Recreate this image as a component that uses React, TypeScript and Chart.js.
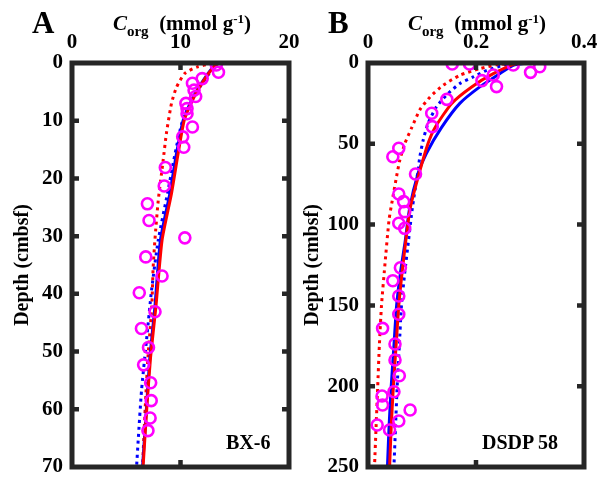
import React, { useEffect, useRef } from "react";
import { Chart, registerables } from "chart.js";

Chart.register(...registerables);

// ---------- Panel A (BX-6) ----------
const A_obsDepth = [0.35, 1.6, 2.7, 3.5, 4.7, 5.8, 7.0, 7.9, 8.8, 11.1, 12.8, 14.6, 18.1, 21.3, 24.4, 27.3, 30.3, 33.6, 36.9, 39.8, 43.1, 46.0, 49.3, 52.3, 55.4, 58.5, 61.5, 63.7];
const A_obsCorg = [13.3, 13.5, 12.0, 11.1, 11.25, 11.4, 10.5, 10.6, 10.6, 11.1, 10.2, 10.3, 8.6, 8.5, 6.95, 7.1, 10.4, 6.8, 8.3, 6.2, 7.65, 6.4, 7.05, 6.6, 7.25, 7.3, 7.2, 7.0];

const A_blueSolidDepth = [0, 0.7, 3, 5.9, 9.9, 15.7, 22.6, 30.7, 42.3, 51, 59.6, 70];
const A_blueSolid = [13.4, 13.0, 12.1, 11.17, 10.25, 9.63, 9.02, 8.15, 7.64, 7.18, 6.87, 6.5];
const A_redSolidDepth = [0, 0.7, 3, 5.9, 9.9, 15.7, 22.6, 30.7, 42.3, 51, 59.6, 70];
const A_redSolid = [13.5, 13.05, 12.15, 11.25, 10.35, 9.78, 9.17, 8.3, 7.73, 7.24, 6.9, 6.55];
const A_redDotDepth = [0, 0.1, 0.7, 1.8, 4.2, 7, 12.2, 16.9, 23.8, 30.7, 35.4, 42.3, 51, 59.6, 70];
const A_redDotted = [13.6, 12.9, 11.5, 10.4, 9.63, 9.17, 8.7, 8.4, 7.95, 7.64, 7.48, 7.35, 7.0, 6.75, 6.5];
const A_blueDotDepth = [0, 0.7, 3, 5.9, 9.9, 15.7, 22.6, 30.7, 39.4, 48, 56.7, 65.4, 70];
const A_blueDotted = [13.5, 13.1, 12.2, 11.2, 10.2, 9.5, 8.8, 7.95, 7.33, 6.87, 6.41, 6.1, 5.95];
const A_xTicks = [0, 10, 20];
const A_yTicks = [0, 10, 20, 30, 40, 50, 60, 70];

// ---------- Panel B (DSDP 58) ----------
const B_obsDepth = [0.6, 0.6, 1.2, 2.3, 5.8, 7.4, 10.9, 14.6, 22.5, 31.1, 39.4, 52.8, 58.0, 68.7, 81.1, 85.8, 92.0, 99.2, 102.3, 126.7, 134.7, 144.2, 155.5, 164.2, 173.9, 183.8, 193.5, 203.4, 206.1, 211.6, 214.7, 221.5, 224.0, 227.1];
const B_obsCorg = [0.156, 0.188, 0.269, 0.318, 0.301, 0.232, 0.211, 0.238, 0.146, 0.118, 0.119, 0.057, 0.046, 0.088, 0.057, 0.066, 0.068, 0.057, 0.068, 0.06, 0.046, 0.057, 0.057, 0.027, 0.05, 0.05, 0.058, 0.048, 0.026, 0.027, 0.078, 0.057, 0.017, 0.04];

const B_blueSolidDepth = [0, 1.4, 6.6, 14.8, 25, 40, 56, 68, 90, 110, 130, 150, 175, 200, 225, 250];
const B_blueSolid = [0.295, 0.269, 0.244, 0.207, 0.17, 0.136, 0.108, 0.093, 0.077, 0.069, 0.06, 0.053, 0.048, 0.043, 0.039, 0.036];
const B_redSolidDepth = [0, 0.4, 6.6, 14.8, 25, 40, 50, 68, 90, 110, 130, 150, 175, 200, 225, 250];
const B_redSolid = [0.3, 0.275, 0.232, 0.192, 0.155, 0.124, 0.111, 0.095, 0.078, 0.07, 0.063, 0.057, 0.052, 0.047, 0.043, 0.04];
const B_redDotDepth = [0, 1, 3.5, 7.6, 13.8, 21, 29, 40, 50, 60, 70, 85, 97, 126, 150, 175, 200, 225, 250];
const B_redDotted = [0.28, 0.24, 0.207, 0.17, 0.139, 0.115, 0.096, 0.081, 0.068, 0.059, 0.053, 0.045, 0.039, 0.031, 0.025, 0.021, 0.018, 0.015, 0.012];
const B_blueDotDepth = [0, 1.4, 4.5, 8.6, 12.7, 19, 27, 37.5, 48, 58, 68, 90, 110, 130, 150, 175, 200, 225, 250];
const B_blueDotted = [0.27, 0.251, 0.22, 0.195, 0.17, 0.148, 0.127, 0.111, 0.102, 0.096, 0.092, 0.082, 0.075, 0.068, 0.062, 0.058, 0.054, 0.051, 0.048];
const B_xTicks = [0, 0.2, 0.4];
const B_yTicks = [0, 50, 100, 150, 200, 250];

const FONT = "'Liberation Serif', 'Times New Roman', serif";
const FRAME = "#262626";

function pts(xs: number[], ys: number[]) {
  return xs.map((x, i) => ({ x, y: ys[i] }));
}

const framePlugin = {
  id: "frame",
  afterDatasetsDraw(chart: any, _args: any, opts: any) {
    const { ctx, chartArea } = chart;
    const { left, right, top, bottom } = chartArea;
    const xs = chart.scales.x;
    const ys = chart.scales.y;
    ctx.save();
    ctx.strokeStyle = FRAME;
    ctx.lineWidth = 5;
    ctx.lineCap = "butt";
    ctx.strokeRect(left, top, right - left, bottom - top);
    const len = 7;
    ctx.lineWidth = 4.5;
    ctx.beginPath();
    (opts.xTicks as number[]).forEach((v) => {
      const px = xs.getPixelForValue(v);
      if (px <= left + 3 || px >= right - 3) return;
      ctx.moveTo(px, top);
      ctx.lineTo(px, top + len);
      ctx.moveTo(px, bottom);
      ctx.lineTo(px, bottom - len);
    });
    (opts.yTicks as number[]).forEach((v) => {
      const py = ys.getPixelForValue(v);
      if (py <= top + 3 || py >= bottom - 3) return;
      ctx.moveTo(left, py);
      ctx.lineTo(left + len, py);
      ctx.moveTo(right, py);
      ctx.lineTo(right - len, py);
    });
    ctx.stroke();
    ctx.restore();
  },
};

type Curve = { depth: number[]; vals: number[]; color: string; dotted: boolean };

type PanelProps = {
  obsDepth: number[];
  obsCorg: number[];
  curves: Curve[];
  xMax: number;
  xStep: number;
  yMax: number;
  yStep: number;
  xTicks: number[];
  yTicks: number[];
  yAxisWidth: number;
  padRight: number;
  titlePad: number;
  fmt: (v: number) => string;
};

function Panel(p: PanelProps) {
  const ref = useRef<HTMLCanvasElement | null>(null);
  useEffect(() => {
    if (!ref.current) return;
    const datasets: any[] = [
      {
        label: "obs",
        data: pts(p.obsCorg, p.obsDepth),
        showLine: false,
        pointRadius: 5.5,
        pointBorderWidth: 2.6,
        pointBorderColor: "#ff00ff",
        pointBackgroundColor: "rgba(0,0,0,0)",
        pointStyle: "circle",
      },
      ...p.curves.map((c, i) => ({
        label: "c" + i,
        data: pts(c.vals, c.depth),
        showLine: true,
        borderColor: c.color,
        borderWidth: 3,
        borderDash: c.dotted ? [3, 4] : [],
        pointRadius: 0,
        tension: 0.2,
        fill: false,
      })),
    ];
    const tickFont = { family: FONT, size: 21, weight: "bold" as const };
    const chart = new Chart(ref.current, {
      type: "scatter",
      data: { datasets },
      options: {
        animation: false,
        responsive: false,
        maintainAspectRatio: false,
        events: [],
        layout: { padding: { left: 0, right: p.padRight, top: 0, bottom: 13 } },
        plugins: {
          legend: { display: false },
          tooltip: { enabled: false },
          frame: { xTicks: p.xTicks, yTicks: p.yTicks },
        } as any,
        scales: {
          x: {
            type: "linear",
            position: "top",
            min: 0,
            max: p.xMax,
            grid: { display: false, drawTicks: false },
            border: { display: false },
            ticks: {
              stepSize: p.xStep,
              color: "#000",
              font: tickFont,
              padding: 8,
              maxRotation: 0,
              callback: (v: any) => p.fmt(Number(v)),
            },
            afterFit: (s: any) => {
              s.height = 63;
              s.paddingLeft = 0;
              s.paddingRight = 0;
            },
          },
          y: {
            type: "linear",
            reverse: true,
            min: 0,
            max: p.yMax,
            grid: { display: false, drawTicks: false },
            border: { display: false },
            ticks: { stepSize: p.yStep, color: "#000", font: tickFont, padding: 9 },
            title: {
              display: true,
              text: "Depth (cmbsf)",
              color: "#000",
              font: { family: FONT, size: 20, weight: "bold" },
              padding: { top: p.titlePad, bottom: 0 },
            },
            afterFit: (s: any) => {
              s.width = p.yAxisWidth;
              s.paddingTop = 0;
              s.paddingBottom = 0;
            },
          },
        },
      },
      plugins: [framePlugin],
    });
    return () => chart.destroy();
  }, []);
  return <canvas ref={ref} width={300} height={480} style={{ display: "block", width: 300, height: 480 }} />;
}

const txt: React.CSSProperties = {
  position: "absolute",
  fontFamily: FONT,
  fontWeight: "bold",
  color: "#000",
  whiteSpace: "nowrap",
  lineHeight: 1,
};

function Title({ cx }: { cx: number }) {
  return (
    <div style={{ ...txt, left: cx - 100, width: 200, top: 12, fontSize: 21, textAlign: "center" }}>
      <i>C</i>
      <sub style={{ fontSize: 15, verticalAlign: "-6px" }}>org</sub>
      {"\u00a0\u00a0(mmol g"}
      <sup style={{ fontSize: 13, verticalAlign: "7px" }}>-1</sup>
      {")"}
    </div>
  );
}

export default function App() {
  return (
    <div style={{ position: "fixed", left: 0, top: 0, width: 600, height: 480, background: "#fff", overflow: "hidden" }}>
      <div style={{ position: "absolute", left: 0, top: 0 }}>
        <Panel
          obsDepth={A_obsDepth}
          obsCorg={A_obsCorg}
          curves={[
            { depth: A_redSolidDepth, vals: A_redSolid, color: "#ff0000", dotted: false },
            { depth: A_blueSolidDepth, vals: A_blueSolid, color: "#0000ff", dotted: false },
            { depth: A_redDotDepth, vals: A_redDotted, color: "#ff0000", dotted: true },
            { depth: A_blueDotDepth, vals: A_blueDotted, color: "#0000ff", dotted: true },
          ]}
          xMax={20}
          xStep={10}
          yMax={70}
          yStep={10}
          xTicks={A_xTicks}
          yTicks={A_yTicks}
          yAxisWidth={72}
          padRight={11}
          titlePad={11}
          fmt={(v) => String(v)}
        />
      </div>
      <div style={{ position: "absolute", left: 300, top: 0 }}>
        <Panel
          obsDepth={B_obsDepth}
          obsCorg={B_obsCorg}
          curves={[
            { depth: B_redSolidDepth, vals: B_redSolid, color: "#ff0000", dotted: false },
            { depth: B_blueSolidDepth, vals: B_blueSolid, color: "#0000ff", dotted: false },
            { depth: B_redDotDepth, vals: B_redDotted, color: "#ff0000", dotted: true },
            { depth: B_blueDotDepth, vals: B_blueDotted, color: "#0000ff", dotted: true },
          ]}
          xMax={0.4}
          xStep={0.2}
          yMax={250}
          yStep={50}
          xTicks={B_xTicks}
          yTicks={B_yTicks}
          yAxisWidth={68}
          padRight={16}
          titlePad={1}
          fmt={(v) => (Math.abs(v) < 1e-9 ? "0" : v.toFixed(1))}
        />
      </div>
      <div style={{ ...txt, left: 32, top: 7, fontSize: 31 }}>A</div>
      <div style={{ ...txt, left: 328, top: 7, fontSize: 31 }}>B</div>
      <Title cx={182} />
      <Title cx={477} />
      <div style={{ ...txt, left: 226, top: 432, fontSize: 20 }}>BX-6</div>
      <div style={{ ...txt, left: 482, top: 432, fontSize: 20 }}>DSDP 58</div>
    </div>
  );
}
